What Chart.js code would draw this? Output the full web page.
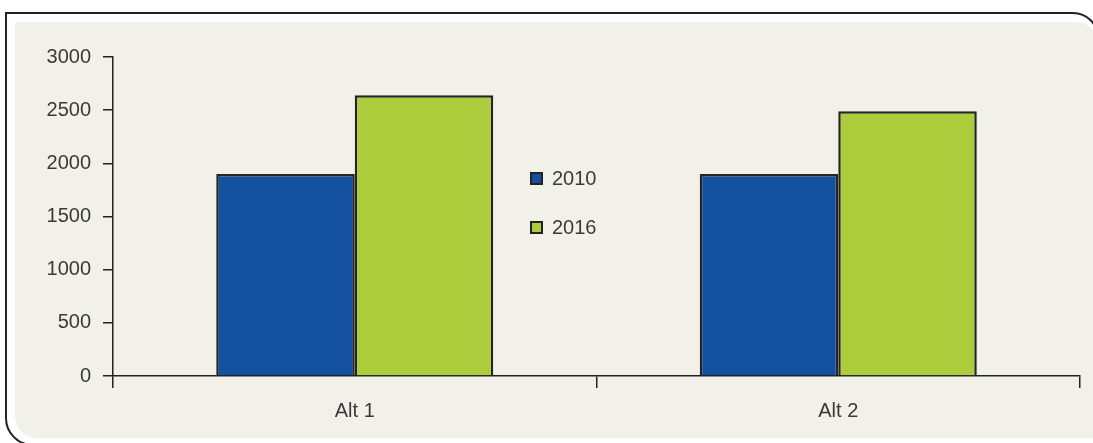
<!DOCTYPE html>
<html>
<head>
<meta charset="utf-8">
<script src="https://cdn.jsdelivr.net/npm/chart.js@4/dist/chart.umd.min.js"></script>
<style>
  html, body { margin: 0; padding: 0; background: #fff; }
  #wrap { position: relative; width: 1093px; height: 443px; overflow: hidden; }
  #frame {
    position: absolute; left: 5px; top: 12px; width: 1094px; height: 434px;
    border: 2px solid #222; border-radius: 0 26px 0 28px; box-sizing: border-box;
  }
  #panel {
    position: absolute; left: 15px; top: 22px; width: 1083px; height: 416px;
    background: #f1f0e9; border-radius: 0 22px 0 22px;
  }
  #chart-alt { position: absolute; left: 0; top: 0; }
</style>
</head>
<body>
<div id="wrap">
  <div id="frame"></div>
  <div id="panel"></div>
  <canvas id="chart-alt" width="1093" height="443"></canvas>
</div>
<script>
// categories and series
const categories = ['Alt 1', 'Alt 2'];
const values2010 = [1900, 1900];
const values2016 = [2640, 2490];
const yTicks = [0, 500, 1000, 1500, 2000, 2500, 3000];

document.addEventListener('DOMContentLoaded', function () {
  const AXIS_COLOR = '#222';
  const TEXT_COLOR = '#3a3a3a';
  const FONT = { family: '"Liberation Sans", Arial, sans-serif', size: 20 };

  // legend drawn in the middle of the plot, stacked vertically
  const middleLegend = {
    id: 'middleLegend',
    afterDraw(chart) {
      const ctx = chart.ctx;
      ctx.save();
      ctx.font = `${FONT.size}px ${FONT.family}`;
      ctx.textBaseline = 'middle';
      chart.data.datasets.forEach((ds, i) => {
        const y = 178 + i * 49;
        ctx.fillStyle = ds.backgroundColor;
        ctx.fillRect(531, y - 5, 11, 11);
        ctx.strokeStyle = AXIS_COLOR;
        ctx.lineWidth = 2;
        ctx.strokeRect(531, y - 5, 11, 11);
        ctx.fillStyle = TEXT_COLOR;
        ctx.fillText(ds.label, 552, y + 1);
      });
      ctx.restore();
    },
  };

  new Chart(document.getElementById('chart-alt'), {
    type: 'bar',
    plugins: [middleLegend],
    data: {
      labels: categories,
      datasets: [
        {
          label: '2010',
          data: values2010,
          backgroundColor: '#1450a0',
          borderColor: '#252525',
          borderWidth: 2.5,
        },
        {
          label: '2016',
          data: values2016,
          backgroundColor: '#adcc3c',
          borderColor: '#252525',
          borderWidth: 2.5,
        },
      ],
    },
    options: {
      responsive: false,
      animation: false,
      layout: { padding: { top: 57, right: 13, left: 0, bottom: 0 } },
      datasets: {
        bar: { categoryPercentage: 0.573, barPercentage: 1 },
      },
      scales: {
        x: {
          grid: {
            offset: true,
            drawOnChartArea: false,
            drawTicks: true,
            tickLength: 12,
            color: AXIS_COLOR,
            lineWidth: 1.5,
          },
          border: { display: true, color: AXIS_COLOR, width: 1.5 },
          ticks: { color: TEXT_COLOR, font: FONT, padding: 11 },
          afterFit: (scale) => { scale.height = 67; },
        },
        y: {
          min: 0,
          max: 3000,
          afterBuildTicks: (scale) => { scale.ticks = yTicks.map((v) => ({ value: v })); },
          grid: {
            drawOnChartArea: false,
            drawTicks: true,
            tickLength: 10,
            color: AXIS_COLOR,
            lineWidth: 1.5,
          },
          border: { display: true, color: AXIS_COLOR, width: 1.5 },
          ticks: {
            color: TEXT_COLOR,
            font: FONT,
            padding: 12,
            callback: (value) => String(value),
          },
          afterFit: (scale) => { scale.width = 113; },
        },
      },
      plugins: {
        legend: { display: false },
        tooltip: { enabled: false },
      },
    },
  });
});
</script>
</body>
</html>
